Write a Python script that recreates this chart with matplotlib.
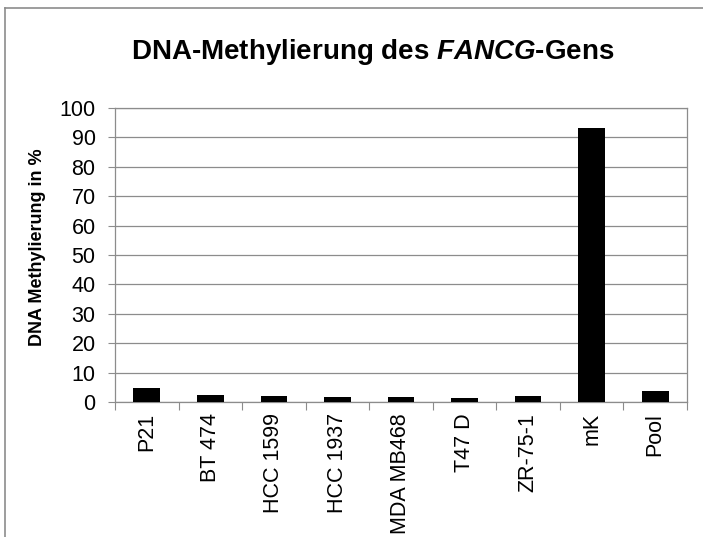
import matplotlib
matplotlib.use("Agg")
import matplotlib.pyplot as plt
from matplotlib.lines import Line2D
import numpy as np

plt.rcParams['font.family'] = ['Liberation Sans', 'DejaVu Sans']
plt.rcParams['mathtext.fontset'] = 'custom'
plt.rcParams['mathtext.rm'] = 'Liberation Sans:bold'
plt.rcParams['mathtext.it'] = 'Liberation Sans:italic:bold'
plt.rcParams['mathtext.bf'] = 'Liberation Sans:bold'

# data
samples = ['P21', 'BT 474', 'HCC 1599', 'HCC 1937', 'MDA MB468', 'T47 D', 'ZR-75-1', 'mK', 'Pool']
methylation = [4.9, 2.3, 2.2, 1.7, 1.7, 1.4, 1.9, 93.3, 3.8]
y_ticks = list(range(0, 101, 10))

grey = '#8c8c8c'

fig = plt.figure(figsize=(7.03, 5.37), dpi=100)
ax = fig.add_axes([115/703, 1 - 402/537, (687-115)/703, (402-108)/537])

x = np.arange(len(samples))
ax.bar(x, methylation, width=0.42, color='black', zorder=3)

ax.set_xlim(-0.5, len(samples) - 0.5)
ax.set_ylim(0, 100)
ax.set_yticks(y_ticks)
ax.tick_params(axis='y', labelsize=15.5, length=5, color=grey, pad=9)
ax.yaxis.grid(True, color=grey, linewidth=0.9, zorder=0)

# category separators as major ticks, names on minor ticks
ax.set_xticks(np.arange(-0.5, len(samples), 1.0))
ax.set_xticklabels([])
ax.set_xticks(x, minor=True)
ax.set_xticklabels(samples, minor=True, rotation=90, fontsize=15.5)
ax.tick_params(axis='x', which='major', length=6, color=grey)
ax.tick_params(axis='x', which='minor', length=0, pad=8)

for s in ax.spines.values():
    s.set_color(grey)
    s.set_linewidth(0.9)

ax.set_ylabel('DNA Methylierung in %', fontsize=13, fontweight='bold')
ax.yaxis.set_label_coords(-0.12, 0.527)

fig.text(373/703, 1 - 52/537, r'DNA-Methylierung des $\it{FANCG}$-Gens',
         ha='center', va='center', fontsize=20, fontweight='bold')

# outer chart frame (cut off at right and bottom)
fig.add_artist(Line2D([5/703, 5/703], [0, 1 - 8/537], color=grey, linewidth=1.2))
fig.add_artist(Line2D([5/703, 1], [1 - 8/537, 1 - 8/537], color=grey, linewidth=1.2))

fig.savefig('out.png', dpi=100)
